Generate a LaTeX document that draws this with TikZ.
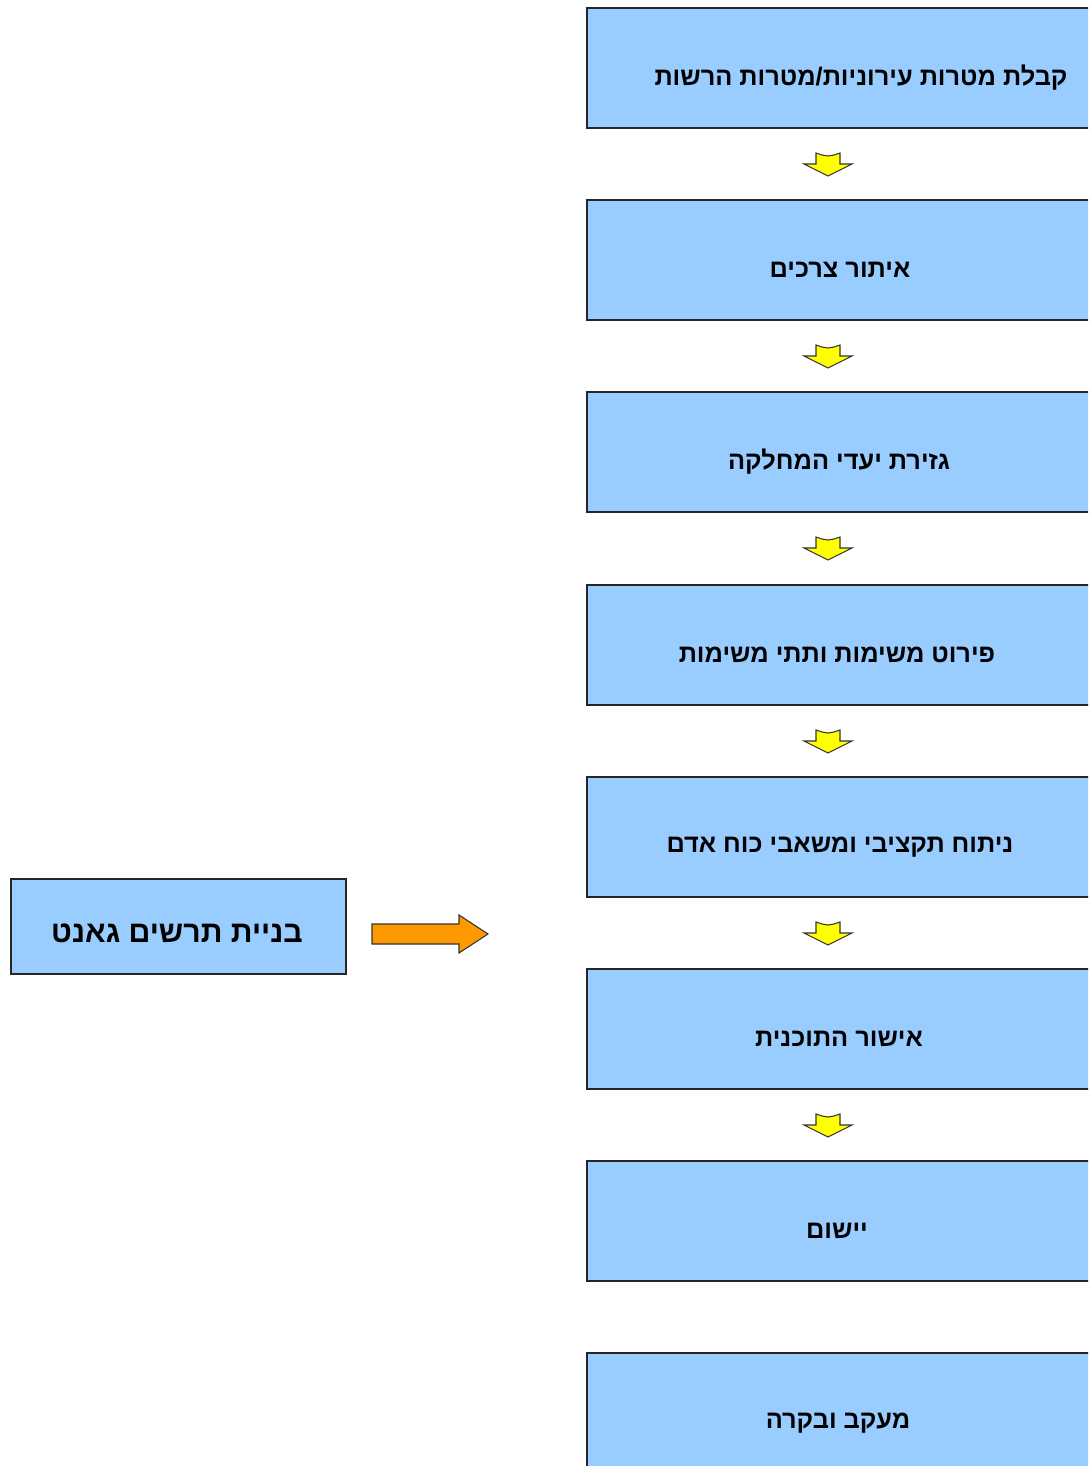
\documentclass[tikz,border=0pt]{standalone}
\usepackage{fontspec}
\newfontfamily\hebfont[Script=Hebrew]{Liberation Sans}
\TeXXeTstate=1
\definecolor{boxblue}{HTML}{99CCFF}
\definecolor{flowyellow}{HTML}{FFFF00}
\definecolor{gorange}{HTML}{FF9900}
\tikzset{
  stepbox/.style={draw=black!85, line width=1.5pt, fill=boxblue, rectangle,
    minimum width=390pt, minimum height=90pt, inner sep=0pt},
  steptext/.style={font=\hebfont\bfseries\fontsize{19}{22}\selectfont, inner sep=0pt},
  ganttbox/.style={draw=black!85, line width=1.5pt, fill=boxblue, rectangle,
    minimum width=251pt, minimum height=71pt, inner sep=0pt},
  gantttext/.style={font=\hebfont\bfseries\fontsize{22.7}{26}\selectfont, inner sep=0pt},
  downarrow/.pic={
    \draw[fill=flowyellow, draw=black!80, line width=0.8pt, line join=miter]
      (-12,-11) -- (-6,-9) -- (0,-8) -- (6,-9) -- (12,-11) -- (12,0)
      -- (24,0) -- (0,12) -- (-24,0) -- (-12,0) -- cycle;
  }
}
\begin{document}
\begin{tikzpicture}[x=0.75pt, y=-0.75pt]
  \useasboundingbox (0,0) rectangle (1088,1466);
  \clip (0,0) rectangle (1088,1466);
  \fill[white] (0,0) rectangle (1088,1466);

  % process steps
  \node[stepbox] (s1) at (847,68) {};
  \node[stepbox] (s2) at (847,260) {};
  \node[stepbox] (s3) at (847,452) {};
  \node[stepbox] (s4) at (847,645) {};
  \node[stepbox] (s5) at (847,837) {};
  \node[stepbox] (s6) at (847,1029) {};
  \node[stepbox] (s7) at (847,1221) {};
  \node[stepbox] (s8) at (847,1413) {};

  \node[steptext] (t1) at (861,78) {\beginR קבלת מטרות עירוניות/מטרות הרשות\endR};
  \node[steptext] (t2) at (840,270) {\beginR איתור צרכים\endR};
  \node[steptext] (t3) at (839,462) {\beginR גזירת יעדי המחלקה\endR};
  \node[steptext] (t4) at (837,655) {\beginR פירוט משימות ותתי משימות\endR};
  \node[steptext] (t5) at (840,847) {\beginR ניתוח תקציבי ומשאבי כוח אדם\endR};
  \node[steptext] (t6) at (839,1039) {\beginR אישור התוכנית\endR};
  \node[steptext] (t7) at (837,1231) {\beginR יישום\endR};
  \node[steptext] (t8) at (838,1423) {\beginR מעקב ובקרה\endR};

  % arrows between steps
  \foreach \y in {164,356,548,741,933,1125}
    \pic at (828,\y) {downarrow};

  % Gantt box and its arrow
  \node[ganttbox] (g) at (178.5,926.5) {};
  \node[gantttext] (gt) at (177,933) {\beginR בניית תרשים גאנט\endR};
  \draw[fill=gorange, draw=black!80, line width=0.8pt, line join=miter]
    (372,924) -- (459,924) -- (459,915) -- (488,934) -- (459,953)
    -- (459,944) -- (372,944) -- cycle;
\end{tikzpicture}
\end{document}
